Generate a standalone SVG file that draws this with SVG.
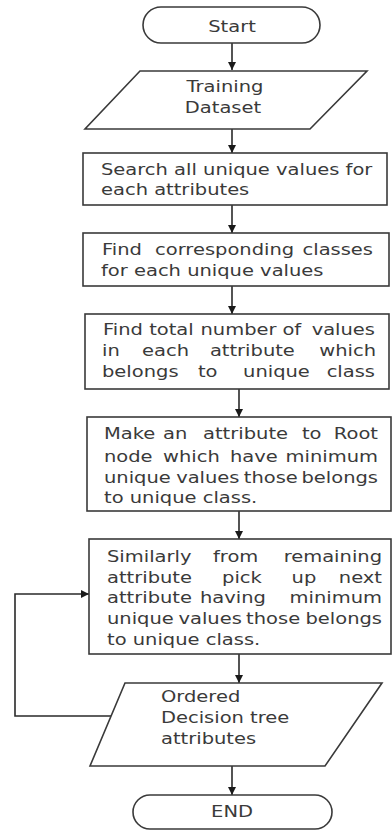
<svg xmlns="http://www.w3.org/2000/svg" width="392" height="830" viewBox="0 0 392 830">
<style>
.s{fill:#fff;stroke:#3a3a3a;stroke-width:1.6}
.c{fill:none;stroke:#2a2a2a;stroke-width:1.6}
text{font-family:"DejaVu Sans","Verdana",sans-serif;font-size:15px;fill:#3a3a3a}
.m{text-anchor:middle}
.e{text-anchor:end}
</style>
<defs>
<marker id="ah" markerWidth="8" markerHeight="8" refX="8" refY="4" orient="auto" markerUnits="userSpaceOnUse">
<path d="M0,0 L8,4 L0,8 Z" fill="#1a1a1a"/>
</marker>
</defs>
<rect width="392" height="830" fill="#fff"/>
<g id="connectors">
<line class="c" x1="232" y1="43" x2="232" y2="70" marker-end="url(#ah)"/>
<line class="c" x1="232" y1="129" x2="232" y2="153" marker-end="url(#ah)"/>
<line class="c" x1="232" y1="205" x2="232" y2="233" marker-end="url(#ah)"/>
<line class="c" x1="232" y1="286" x2="232" y2="314" marker-end="url(#ah)"/>
<line class="c" x1="239" y1="389" x2="239" y2="417" marker-end="url(#ah)"/>
<line class="c" x1="239" y1="511" x2="239" y2="539" marker-end="url(#ah)"/>
<line class="c" x1="239" y1="654" x2="239" y2="683" marker-end="url(#ah)"/>
<line class="c" x1="232" y1="766" x2="232" y2="795" marker-end="url(#ah)"/>
<polyline class="c" points="111,716 15,716 15,594 89,594" marker-end="url(#ah)"/>
</g>
<g id="start">
<rect class="s" x="143" y="7" width="177" height="36" rx="18"/>
<text class="m" transform="translate(232,32) scale(1.3,1)">Start</text>
</g>
<g id="training">
<polygon class="s" points="140,71 367,71 310,129 85,129"/>
<text class="m" transform="translate(225,92) scale(1.3,1)">Training</text>
<text class="m" transform="translate(223,113) scale(1.3,1)">Dataset</text>
</g>
<g id="search">
<rect class="s" x="83" y="153" width="304" height="52"/>
<text transform="translate(101,175) scale(1.3,1)">Search all unique values for</text>
<text transform="translate(101,195) scale(1.3,1)">each attributes</text>
</g>
<g id="find-classes">
<rect class="s" x="83" y="233" width="306" height="53"/>
<text transform="translate(102,255) scale(1.3,1)"><tspan x="0">Find</tspan><tspan x="40.8">corresponding</tspan></text>
<text class="e" transform="translate(373,255) scale(1.3,1)">classes</text>
<text transform="translate(101,276) scale(1.3,1)">for each unique values</text>
</g>
<g id="find-total">
<rect class="s" x="85" y="314" width="304" height="75"/>
<text transform="translate(103,335) scale(1.3,1)"><tspan x="0">Find</tspan><tspan x="35.5">total</tspan><tspan x="75">number</tspan><tspan x="138">of</tspan></text>
<text class="e" transform="translate(375,335) scale(1.3,1)">values</text>
<text transform="translate(102,356) scale(1.3,1)"><tspan x="0">in</tspan><tspan x="30.8">each</tspan><tspan x="83">attribute</tspan></text>
<text class="e" transform="translate(376,356) scale(1.3,1)">which</text>
<text transform="translate(102,377) scale(1.3,1)"><tspan x="0">belongs</tspan><tspan x="73.8">to</tspan><tspan x="108.5">unique</tspan></text>
<text class="e" transform="translate(375,377) scale(1.3,1)">class</text>
</g>
<g id="root">
<rect class="s" x="87" y="417" width="304" height="94"/>
<text transform="translate(104,439) scale(1.3,1)"><tspan x="0">Make</tspan><tspan x="45.4">an</tspan><tspan x="76.2">attribute</tspan><tspan x="152.3">to</tspan></text>
<text class="e" transform="translate(378,439) scale(1.3,1)">Root</text>
<text transform="translate(104,462) scale(1.3,1)"><tspan x="0">node</tspan><tspan x="45.4">which</tspan><tspan x="96.9">have</tspan></text>
<text class="e" transform="translate(378,462) scale(1.3,1)">minimum</text>
<text transform="translate(104,483) scale(1.3,1)"><tspan x="0">unique</tspan><tspan x="55.5">values</tspan><tspan x="107.5">those</tspan></text>
<text class="e" transform="translate(378,483) scale(1.3,1)">belongs</text>
<text transform="translate(104,503) scale(1.3,1)">to unique class.</text>
</g>
<g id="similarly">
<rect class="s" x="89" y="539" width="302" height="115"/>
<text transform="translate(107,562) scale(1.3,1)"><tspan x="0">Similarly</tspan><tspan x="81.5">from</tspan></text>
<text class="e" transform="translate(382,562) scale(1.3,1)">remaining</text>
<text transform="translate(107,583) scale(1.3,1)"><tspan x="0">attribute</tspan><tspan x="88.5">pick</tspan><tspan x="142">up</tspan></text>
<text class="e" transform="translate(382,583) scale(1.3,1)">next</text>
<text transform="translate(107,603) scale(1.3,1)"><tspan x="0">attribute</tspan><tspan x="71.5">having</tspan></text>
<text class="e" transform="translate(382,603) scale(1.3,1)">minimum</text>
<text transform="translate(107,624) scale(1.3,1)"><tspan x="0">unique</tspan><tspan x="55">values</tspan><tspan x="107">those</tspan></text>
<text class="e" transform="translate(382,624) scale(1.3,1)">belongs</text>
<text transform="translate(107,645) scale(1.3,1)">to unique class.</text>
</g>
<g id="ordered">
<polygon class="s" points="125,683 382,683 325,766 90,766"/>
<text transform="translate(161,702) scale(1.3,1)">Ordered</text>
<text transform="translate(161,723) scale(1.3,1)">Decision tree</text>
<text transform="translate(161,744) scale(1.3,1)">attributes</text>
</g>
<g id="end">
<rect class="s" x="133" y="795" width="199" height="34" rx="17"/>
<text class="m" transform="translate(232,817) scale(1.3,1)">END</text>
</g>
</svg>
